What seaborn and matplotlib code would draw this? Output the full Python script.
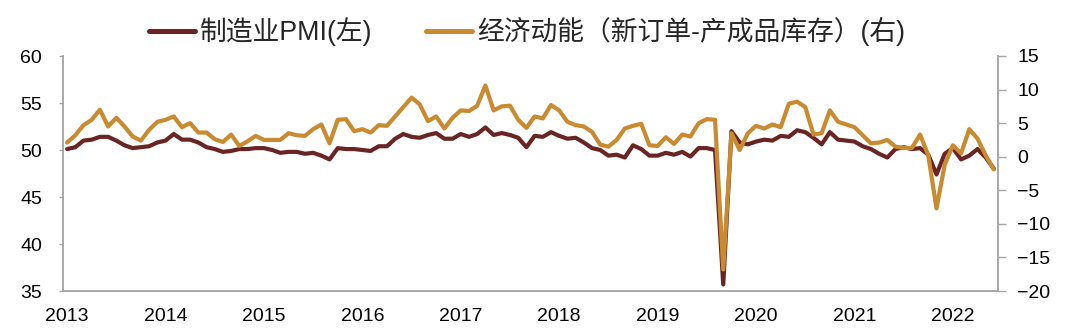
import numpy as np
import pandas as pd
import matplotlib
matplotlib.use("Agg")
import matplotlib.pyplot as plt
import matplotlib.transforms as mtransforms
from matplotlib.font_manager import FontProperties
import seaborn as sns

# ---- data (monthly, Jun 2013 - Nov 2022) ----
year_labels = ["2013", "2014", "2015", "2016", "2017", "2018", "2019", "2020", "2021", "2022"]

pmi = [50.1, 50.3, 51.0, 51.1, 51.4, 51.4, 51.0,
       50.5, 50.2, 50.3, 50.4, 50.8, 51.0, 51.7, 51.1, 51.1, 50.8, 50.3, 50.1,
       49.8, 49.9, 50.1, 50.1, 50.2, 50.2, 50.0, 49.7, 49.8, 49.8, 49.6, 49.7,
       49.4, 49.0, 50.2, 50.1, 50.1, 50.0, 49.9, 50.4, 50.4, 51.2, 51.7, 51.4,
       51.3, 51.6, 51.8, 51.2, 51.2, 51.7, 51.4, 51.7, 52.4, 51.6, 51.8, 51.6,
       51.3, 50.3, 51.5, 51.4, 51.9, 51.5, 51.2, 51.3, 50.8, 50.2, 50.0, 49.4,
       49.5, 49.2, 50.5, 50.1, 49.4, 49.4, 49.7, 49.5, 49.8, 49.3, 50.2, 50.2,
       50.0, 35.7, 52.0, 50.8, 50.6, 50.9, 51.1, 51.0, 51.5, 51.4, 52.1, 51.9,
       51.3, 50.6, 51.9, 51.1, 51.0, 50.9, 50.4, 50.1, 49.6, 49.2, 50.1, 50.3,
       50.1, 50.2, 49.5, 47.4, 49.6, 50.2, 49.0, 49.4, 50.1, 49.2, 48.0]

momentum = [2.1, 3.2, 4.7, 5.5, 7.0, 4.5, 5.8, 4.5, 3.0, 2.4, 4.0, 5.2, 5.5, 6.0,
            4.4, 5.0, 3.6, 3.6, 2.6, 2.2, 3.3, 1.6, 2.3, 3.1, 2.5, 2.5, 2.5, 3.5,
            3.2, 3.1, 4.1, 4.8, 2.0, 5.5, 5.6, 3.8, 4.1, 3.6, 4.7, 4.6, 6.0, 7.4,
            8.8, 7.8, 5.3, 6.0, 4.2, 5.8, 6.9, 6.8, 7.6, 10.6, 6.9, 7.5, 7.6, 5.5,
            4.3, 6.0, 5.7, 7.7, 6.9, 5.2, 4.7, 4.5, 3.7, 1.8, 1.5, 2.5, 4.2, 4.6,
            4.9, 1.7, 1.6, 2.9, 1.9, 3.3, 3.0, 5.0, 5.6, 5.5, -16.8, 3.5, 1.0, 3.5,
            4.6, 4.2, 4.8, 4.4, 7.9, 8.2, 7.4, 3.3, 3.5, 6.9, 5.2, 4.8, 4.4, 3.2,
            2.0, 2.1, 2.5, 1.5, 1.3, 1.3, 3.3, 0.2, -7.7, -1.2, 1.7, 0.5, 4.1, 2.7,
            0.2, -1.9]

label_pmi = "制造业PMI(左)"
label_mom = "经济动能（新订单-产成品库存）(右)"

# ---- styling ----
RED = "#6a2424"
ORANGE = "#c98a30"
SPINE = "#a6a6a6"

sns.set_theme(style="white")
plt.rcParams["font.family"] = ["Liberation Sans", "Noto Sans CJK SC", "DejaVu Sans"]
plt.rcParams["axes.unicode_minus"] = True

n = len(pmi)
df = pd.DataFrame({"pos": np.arange(n) + 0.5, "pmi": pmi, "mom": momentum})

fig = plt.figure(figsize=(10.8, 3.35), dpi=100)
ax = fig.add_axes([63 / 1080, 1 - 291 / 335, (998 - 63) / 1080, (291 - 56) / 335])
ax2 = ax.twinx()

sns.lineplot(data=df, x="pos", y="pmi", ax=ax, color=RED, lw=3.0, label=label_pmi, legend=False)
sns.lineplot(data=df, x="pos", y="mom", ax=ax2, color=ORANGE, lw=3.0, label=label_mom, legend=False)

ax.set_xlim(0, n)
ax.set_ylim(35, 60)
ax2.set_ylim(-20, 15)
ax.set_yticks(np.arange(35, 61, 5))
ax2.set_yticks(np.arange(-20, 16, 5))
ax.set_xticks(np.arange(0, 12 * len(year_labels), 12))
ax.set_xticklabels(year_labels)
ax.set_xlabel("")
ax.set_ylabel("")
ax2.set_ylabel("")

for a in (ax, ax2):
    for s in a.spines.values():
        s.set_color(SPINE)
        s.set_linewidth(1.1)
    a.spines["top"].set_visible(False)
    a.grid(False)

ax.tick_params(axis="x", direction="in", length=5, width=1, color=SPINE,
               labelsize=14, pad=12.5, labelcolor="black")
ax.tick_params(axis="y", direction="out", length=3, width=1, color=SPINE,
               labelsize=14, pad=12, labelcolor="black", left=True)
ax2.tick_params(axis="y", direction="out", length=6, width=1, color=SPINE,
                labelsize=14, pad=8, labelcolor="black", right=True)

offset = mtransforms.ScaledTranslation(4 / 100, 0, fig.dpi_scale_trans)
for lbl in ax.get_xticklabels():
    lbl.set_transform(lbl.get_transform() + offset)

h1, l1 = ax.get_legend_handles_labels()
h2, l2 = ax2.get_legend_handles_labels()
leg = fig.legend(h1 + h2, l1 + l2, loc="center", bbox_to_anchor=(0.488, 0.905), ncol=2,
                 frameon=False,
                 prop=FontProperties(family=["Liberation Sans", "Noto Sans CJK SC"], size=19.3),
                 handlelength=1.7, handletextpad=0.2, columnspacing=2.0)
for line in leg.get_lines():
    line.set_linewidth(3.6)

fig.savefig("out.png", dpi=100)
